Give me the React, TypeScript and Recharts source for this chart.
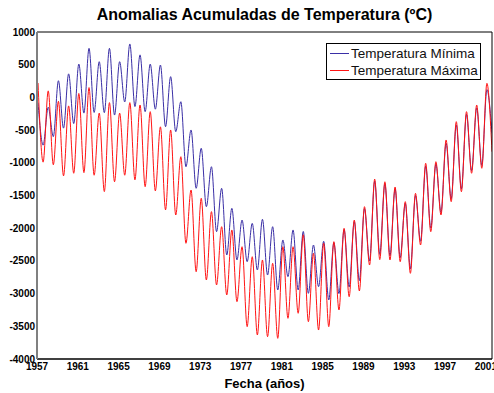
import { LineChart, Line, XAxis, YAxis } from 'recharts';

// years of the record, one summer peak (year + 0.1) and one winter trough (year + 0.6) each
const YEARS = [
  1957, 1958, 1959, 1960, 1961, 1962, 1963, 1964, 1965, 1966, 1967, 1968, 1969, 1970, 1971,
  1972, 1973, 1974, 1975, 1976, 1977, 1978, 1979, 1980, 1981, 1982, 1983, 1984, 1985, 1986,
  1987, 1988, 1989, 1990, 1991, 1992, 1993, 1994, 1995, 1996, 1997, 1998, 1999, 2000, 2001,
];

const MIN_PEAK = [
  -80, -150, 255, 360, 510, 750, 546, 750, 546, 817, 650, 510, 495, 317, -66,
  -498, -778, -1060, -1390, -1696, -1875, -1926, -1864, -1977, -2180, -2027, -2050, -2257, -2200, -2220,
  -2020, -1900, -1700, -1280, -1320, -1400, -1620, -1500, -1050, -1020, -700, -420, -260, -160, 120,
];
const MIN_TROUGH = [
  -730, -600, -470, -400, -240, -230, -233, -270, -70, -140, -218, -180, -448, -524, -1060,
  -1390, -1671, -2053, -2410, -2486, -2512, -2639, -2716, -2945, -2741, -2945, -2996, -2894, -3098, -3000,
  -2900, -2800, -2500, -2400, -2420, -2450, -2620, -2200, -2000, -1760, -1550, -1400, -1120, -1040, -550,
];

const MAX_PEAK = [
  220, 100, -60, -130, 60, 150, -240, -80, -240, -80, -116, -218, -450, -498, -907,
  -1416, -1543, -1747, -1977, -2027, -2283, -2436, -2486, -2537, -2283, -2283, -2100, -2385, -2230, -2206,
  -2002, -1875, -1671, -1250, -1290, -1370, -1594, -1467, -1008, -983, -651, -371, -218, -116, 215,
];
const MAX_TROUGH = [
  -990, -1030, -1200, -1160, -1150, -1190, -1440, -1290, -1190, -1260, -1365, -1430, -1720, -1798, -2231,
  -2665, -2792, -2868, -3021, -3123, -3505, -3633, -3659, -3684, -3378, -3301, -3429, -3557, -3505, -3250,
  -3047, -2960, -2563, -2480, -2486, -2512, -2690, -2257, -2053, -1798, -1594, -1442, -1160, -1084, -830,
];

const X_TICKS = [1957, 1961, 1965, 1969, 1973, 1977, 1981, 1985, 1989, 1993, 1997, 2001];
const Y_TICKS = [-4000, -3500, -3000, -2500, -2000, -1500, -1000, -500, 0, 500, 1000];

const rows: { t: number; min: number; max: number }[] = [];
YEARS.forEach((y, i) => {
  rows.push({ t: y + 0.1, min: MIN_PEAK[i], max: MAX_PEAK[i] });
  rows.push({ t: y + 0.6, min: MIN_TROUGH[i], max: MAX_TROUGH[i] });
});

const BLUE = '#3a2fa6';
const RED = '#ff1414';
const FONT = '"Liberation Sans", Arial, sans-serif';
const tickFont = { fill: '#000', fontSize: 10, fontWeight: 700, fontFamily: FONT };

export default function App() {
  return (
    <div style={{ position: 'absolute', left: 0, top: 0, width: 494, height: 393, background: '#fff', fontFamily: FONT }}>
      <div style={{ position: 'absolute', left: 37, width: 455, top: 6, textAlign: 'center', fontSize: 16, fontWeight: 700, color: '#000' }}>
        Anomalias Acumuladas de Temperatura (ºC)
      </div>
      <LineChart width={494} height={393} data={rows} margin={{ top: 32, right: 2, bottom: 14, left: 0 }}>
        <XAxis
          xAxisId={0}
          dataKey="t"
          type="number"
          domain={[1957, 2001.6]}
          allowDataOverflow
          ticks={X_TICKS}
          height={20}
          tickLine={false}
          tickSize={0}
          tickMargin={4}
          axisLine={{ stroke: '#000', strokeWidth: 1.5 }}
          tick={tickFont}
          interval={0}
        />
        <XAxis
          xAxisId="bt"
          dataKey="t"
          type="number"
          orientation="bottom"
          mirror
          domain={[1957, 2001.6]}
          allowDataOverflow
          ticks={X_TICKS}
          tick={false}
          tickSize={4}
          tickLine={{ stroke: '#000' }}
          axisLine={false}
        />
        <XAxis
          xAxisId="top"
          dataKey="t"
          type="number"
          orientation="top"
          mirror
          domain={[1957, 2001.6]}
          allowDataOverflow
          ticks={X_TICKS}
          tick={false}
          tickSize={4}
          tickLine={{ stroke: '#000' }}
          axisLine={{ stroke: '#000' }}
        />
        <YAxis
          yAxisId={0}
          type="number"
          domain={[-4000, 1000]}
          allowDataOverflow
          ticks={Y_TICKS}
          width={37}
          tickLine={false}
          tickSize={0}
          tickMargin={2}
          axisLine={{ stroke: '#808080', strokeWidth: 2 }}
          tick={tickFont}
          interval={0}
        />
        <YAxis
          yAxisId="lt"
          type="number"
          orientation="left"
          mirror
          domain={[-4000, 1000]}
          allowDataOverflow
          ticks={Y_TICKS}
          tick={false}
          tickSize={4}
          tickLine={{ stroke: '#000' }}
          axisLine={false}
        />
        <YAxis
          yAxisId="r"
          type="number"
          orientation="right"
          mirror
          domain={[-4000, 1000]}
          allowDataOverflow
          ticks={Y_TICKS}
          tick={false}
          tickSize={4}
          tickLine={{ stroke: '#000' }}
          axisLine={{ stroke: '#000' }}
        />
        <Line
          type="monotone"
          dataKey="min"
          name="Temperatura Mínima"
          stroke={BLUE}
          strokeWidth={1}
          dot={false}
          isAnimationActive={false}
        />
        <Line
          type="monotone"
          dataKey="max"
          name="Temperatura Máxima"
          stroke={RED}
          strokeWidth={1}
          dot={false}
          isAnimationActive={false}
        />
      </LineChart>
      <div
        style={{
          position: 'absolute', left: 326, top: 43, width: 153, height: 35,
          border: '1px solid #000', background: '#fff', fontSize: 13.5, color: '#111',
        }}
      >
        {[
          { label: 'Temperatura Mínima', color: BLUE },
          { label: 'Temperatura Máxima', color: RED },
        ].map((item, i) => (
          <div key={i} style={{ position: 'absolute', left: 3, top: 1 + i * 17, height: 16, display: 'flex', alignItems: 'center', whiteSpace: 'nowrap' }}>
            <span style={{ display: 'inline-block', width: 19, height: 1, background: item.color, marginRight: 2 }} />
            <span>{item.label}</span>
          </div>
        ))}
      </div>
      <div style={{ position: 'absolute', left: 37, width: 455, top: 376, textAlign: 'center', fontSize: 13, fontWeight: 700, color: '#000' }}>
        Fecha (años)
      </div>
    </div>
  );
}
